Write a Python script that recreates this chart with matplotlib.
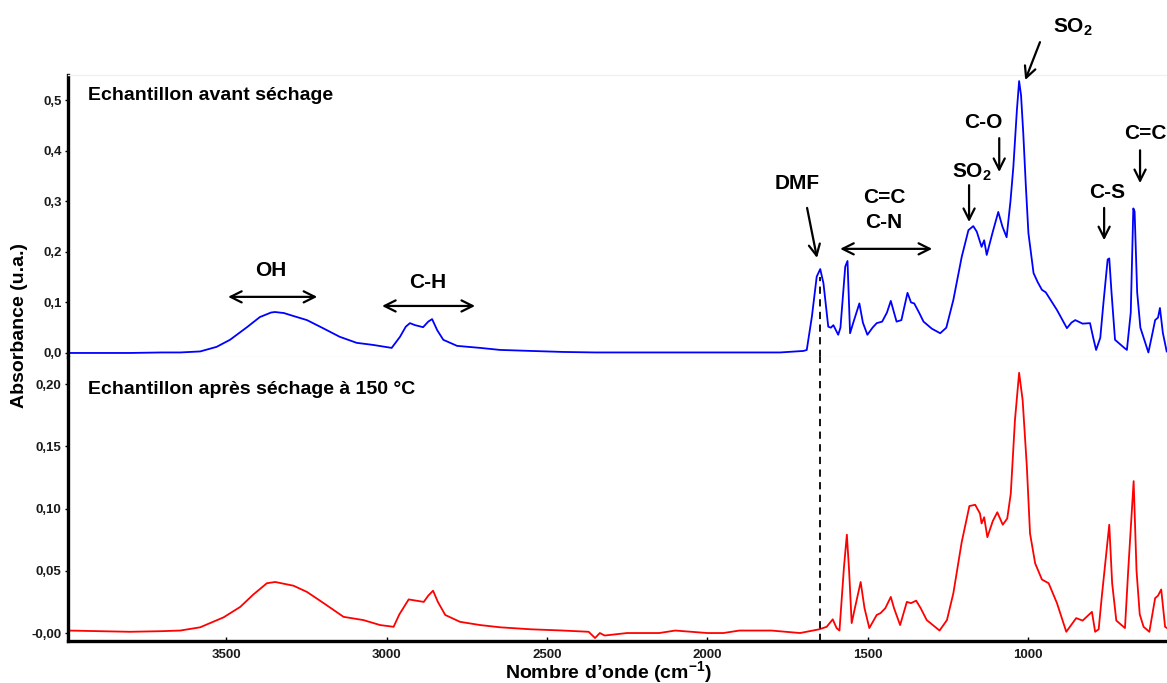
import matplotlib
matplotlib.use("Agg")
import matplotlib.pyplot as plt

plt.rcParams['font.family'] = ['Liberation Sans', 'DejaVu Sans']
plt.rcParams['mathtext.fontset'] = 'custom'
plt.rcParams['mathtext.rm'] = 'Liberation Sans'
plt.rcParams['mathtext.bf'] = 'Liberation Sans:bold'
plt.rcParams['mathtext.default'] = 'bf'

# ---------------- data ----------------
wn_before = [3993, 3800, 3700, 3643, 3581, 3530, 3488, 3435, 3395, 3360, 3348, 3320, 3300, 3248,
             3198, 3146, 3093, 3043, 2984, 2958, 2940, 2927, 2911, 2886, 2870, 2858, 2842, 2823,
             2780, 2708, 2646, 2550, 2450, 2350, 2200, 2000, 1850, 1773, 1700, 1690, 1674, 1659,
             1648, 1638, 1623, 1615, 1607, 1592, 1585, 1570, 1563, 1555, 1545, 1526, 1515, 1501,
             1485, 1472, 1455, 1440, 1428, 1418, 1410, 1395, 1376, 1365, 1355, 1340, 1326, 1300,
             1274, 1255, 1233, 1207, 1186, 1171, 1160, 1145, 1137, 1129, 1110, 1093, 1080, 1067,
             1055, 1046, 1035, 1028, 1022, 1015, 1007, 999, 983, 970, 957, 945, 925, 910, 879,
             865, 853, 830, 807, 797, 788, 775, 765, 752, 747, 740, 729, 700, 692, 680, 672, 668,
             660, 650, 625, 612, 604, 595, 589, 580, 568]
abs_before = [0.000, 0.000, 0.001, 0.001, 0.003, 0.012, 0.026, 0.051, 0.071, 0.080, 0.081, 0.079,
              0.075, 0.065, 0.049, 0.032, 0.020, 0.016, 0.010, 0.032, 0.052, 0.059, 0.055, 0.051,
              0.062, 0.067, 0.045, 0.026, 0.014, 0.010, 0.006, 0.004, 0.002, 0.001, 0.001, 0.001,
              0.001, 0.001, 0.004, 0.006, 0.072, 0.151, 0.166, 0.138, 0.052, 0.050, 0.055, 0.036,
              0.050, 0.171, 0.182, 0.039, 0.060, 0.098, 0.060, 0.036, 0.050, 0.059, 0.062, 0.080,
              0.103, 0.080, 0.062, 0.065, 0.119, 0.100, 0.098, 0.080, 0.062, 0.048, 0.039, 0.050,
              0.105, 0.190, 0.243, 0.251, 0.240, 0.210, 0.223, 0.194, 0.240, 0.279, 0.250, 0.229,
              0.300, 0.368, 0.480, 0.538, 0.510, 0.434, 0.330, 0.237, 0.158, 0.140, 0.125, 0.120,
              0.100, 0.085, 0.049, 0.060, 0.065, 0.058, 0.059, 0.030, 0.006, 0.030, 0.100, 0.185,
              0.187, 0.120, 0.026, 0.010, 0.006, 0.080, 0.286, 0.280, 0.120, 0.050, 0.001, 0.040,
              0.065, 0.070, 0.089, 0.040, 0.003]

wn_after = [3993, 3800, 3700, 3643, 3581, 3508, 3456, 3415, 3373, 3347, 3290, 3248, 3196, 3134,
            3072, 3020, 2978, 2960, 2931, 2884, 2870, 2855, 2840, 2817, 2771, 2708, 2646, 2550,
            2450, 2370, 2350, 2335, 2320, 2250, 2150, 2100, 2000, 1950, 1900, 1800, 1711, 1651,
            1628, 1609, 1597, 1588, 1574, 1565, 1558, 1550, 1540, 1522, 1510, 1495, 1472, 1460,
            1445, 1428, 1418, 1399, 1378, 1365, 1349, 1335, 1316, 1276, 1253, 1233, 1207, 1183,
            1165, 1150, 1145, 1137, 1127, 1110, 1096, 1079, 1065, 1054, 1041, 1028, 1017, 1004,
            994, 978, 957, 936, 910, 881, 850, 830, 801, 791, 780, 770, 747, 738, 725, 698, 688,
            671, 662, 652, 640, 622, 604, 595, 585, 573, 567]
abs_after = [0.002, 0.001, 0.0015, 0.002, 0.0046, 0.0126, 0.021, 0.031, 0.040, 0.041, 0.038,
             0.033, 0.024, 0.013, 0.0104, 0.0064, 0.005, 0.015, 0.027, 0.025, 0.030, 0.034, 0.025,
             0.0145, 0.009, 0.0064, 0.0046, 0.003, 0.002, 0.001, -0.004, 0.000, -0.002, 0.000,
             0.000, 0.002, 0.000, 0.000, 0.002, 0.002, 0.000, 0.003, 0.005, 0.011, 0.004, 0.002,
             0.053, 0.079, 0.050, 0.008, 0.020, 0.041, 0.020, 0.004, 0.0145, 0.016, 0.020, 0.029,
             0.020, 0.0064, 0.025, 0.024, 0.026, 0.020, 0.0104, 0.002, 0.0104, 0.032, 0.073,
             0.102, 0.103, 0.096, 0.088, 0.093, 0.077, 0.090, 0.097, 0.087, 0.092, 0.112, 0.171,
             0.209, 0.187, 0.134, 0.080, 0.056, 0.043, 0.040, 0.024, 0.001, 0.012, 0.010, 0.017,
             0.001, 0.003, 0.030, 0.087, 0.040, 0.010, 0.004, 0.050, 0.122, 0.050, 0.015, 0.005,
             0.001, 0.028, 0.030, 0.035, 0.005, 0.004]

top_ticks = [0.0, 0.1, 0.2, 0.3, 0.4, 0.5]
top_ticklabels = ['0,0', '0,1', '0,2', '0,3', '0,4', '0,5']
bot_ticks = [0.0, 0.05, 0.10, 0.15, 0.20]
bot_ticklabels = ['-0,00', '0,05', '0,10', '0,15', '0,20']
x_ticks = [3500, 3000, 2500, 2000, 1500, 1000]
x_ticklabels = ['3500', '3000', '2500', '2000', '1500', '1000']
dmf_wn = 1650

# ---------------- figure ----------------
W, H = 1167, 683
fig = plt.figure(figsize=(W / 100, H / 100), dpi=100)
left = 68 / W
ax1 = fig.add_axes([left, 1 - 357 / H, 1 - left, (357 - 75) / H])
ax2 = fig.add_axes([left, 1 - 641 / H, 1 - left, (641 - 357) / H])

xlim = (3993, 567)
for ax in (ax1, ax2):
    ax.set_xlim(*xlim)
    for s in ('top', 'right'):
        ax.spines[s].set_visible(False)
    ax.spines['left'].set_linewidth(2.4)
    ax.spines['left'].set_color('black')
    ax.tick_params(axis='y', direction='out', length=2.5, width=1, pad=2,
                   labelsize=9.5, labelcolor='#1a1a1a')

ax1.set_ylim(-0.008, 0.55)
ax2.set_ylim(-0.0064, 0.2217)

ax1.plot(wn_before, abs_before, color='#0000ff', lw=1.3)
ax2.plot(wn_after, abs_after, color='#ff0000', lw=1.3)

# top axes: faint frame lines
ax1.spines['bottom'].set_color('#e6e6e6')
ax1.spines['bottom'].set_linewidth(1)
ax1.spines['top'].set_visible(True)
ax1.spines['top'].set_color('#f0f0f0')
ax1.spines['top'].set_linewidth(1)
ax1.set_xticks([])

ax1.set_yticks(top_ticks)
ax1.set_yticklabels(top_ticklabels, fontweight='bold')
ax2.set_yticks(bot_ticks)
ax2.set_yticklabels(bot_ticklabels, fontweight='bold')

ax2.spines['bottom'].set_linewidth(2.4)
ax2.set_xticks(x_ticks)
ax2.set_xticklabels(x_ticklabels, fontweight='bold')
ax2.tick_params(axis='x', direction='in', length=3, width=1, pad=6,
                labelsize=9.5, labelcolor='#1a1a1a')

# dashed DMF line
ax1.plot([dmf_wn, dmf_wn], [-0.008, 0.15], color='black', lw=1.3, ls=(0, (4, 3)))
ax2.plot([dmf_wn, dmf_wn], [-0.0064, 0.2217], color='black', lw=1.3, ls=(0, (4, 3)),
         clip_on=False)

# titles
ax1.text(0.018, 0.929, 'Echantillon avant séchage', transform=ax1.transAxes,
         fontsize=14, fontweight='bold', va='center', ha='left')
ax2.text(0.018, 0.884, 'Echantillon après séchage à 150 °C', transform=ax2.transAxes,
         fontsize=14, fontweight='bold', va='center', ha='left')

# axis labels
fig.text(608 / W, 1 - 672 / H, 'Nombre d’onde (cm$^{-1}$)', fontsize=14, fontweight='bold',
         ha='center', va='center')
fig.text(20 / W, 1 - 325 / H, 'Absorbance (u.a.)', fontsize=14, fontweight='bold',
         ha='center', va='center', rotation=90)

# annotations
lab_kw = dict(fontsize=15, fontweight='bold', ha='center', va='center')
arr1 = dict(arrowstyle='->', lw=1.6, color='black', mutation_scale=20, shrinkA=0, shrinkB=0)
arr2 = dict(arrowstyle='<->', lw=1.6, color='black', mutation_scale=20, shrinkA=0, shrinkB=0)


def arrow(ax, tail, head, props):
    ax.annotate('', xy=head, xytext=tail, arrowprops=props, annotation_clip=False)


ax1.text(3360, 0.164, 'OH', **lab_kw)
arrow(ax1, (3494, 0.111), (3216, 0.111), arr2)
ax1.text(2873, 0.140, 'C-H', **lab_kw)
arrow(ax1, (3014, 0.093), (2724, 0.093), arr2)
ax1.text(1720, 0.336, 'DMF', **lab_kw)
arrow(ax1, (1689, 0.287), (1658, 0.188), arr1)
ax1.text(1449, 0.308, 'C=C', **lab_kw)
ax1.text(1449, 0.259, 'C-N', **lab_kw)
arrow(ax1, (1586, 0.206), (1299, 0.206), arr2)
ax1.text(1175, 0.358, 'SO$_{2}$', **lab_kw)
arrow(ax1, (1184, 0.332), (1184, 0.259), arr1)
ax1.text(1140, 0.457, 'C-O', **lab_kw)
arrow(ax1, (1090, 0.425), (1090, 0.358), arr1)
ax1.text(860, 0.644, 'SO$_{2}$', **lab_kw)
arrow(ax1, (963, 0.615), (1009, 0.540), arr1)
ax1.text(754, 0.318, 'C-S', **lab_kw)
arrow(ax1, (763, 0.287), (763, 0.223), arr1)
ax1.text(635, 0.435, 'C=C', **lab_kw)
arrow(ax1, (651, 0.401), (651, 0.336), arr1)

fig.savefig('out.png', dpi=100)
